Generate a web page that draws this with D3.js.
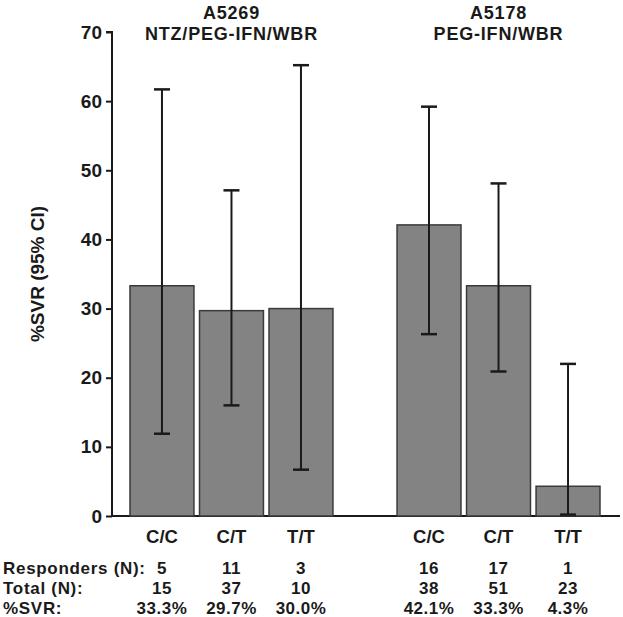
<!DOCTYPE html>
<html><head><meta charset="utf-8">
<script src="https://cdn.jsdelivr.net/npm/d3@7"></script>
<style>
body{margin:0;background:#fff;}
text{font-family:"Liberation Sans",Arial,sans-serif;font-weight:bold;fill:#1a1a1a;}
</style></head>
<body><svg id="c" width="623" height="617"></svg>
<script>
const groups = ["A5269", "A5178"];
const groupSubtitles = ["NTZ/PEG-IFN/WBR", "PEG-IFN/WBR"];
const genotypes = ["C/C", "C/T", "T/T"];
const svr = [[33.3, 29.7, 30.0], [42.1, 33.3, 4.3]];
const ciLow = [[11.9, 16.0, 6.7], [26.3, 20.9, 0.2]];
const ciHigh = [[61.7, 47.1, 65.2], [59.2, 48.1, 22.0]];
const responders = [[5, 11, 3], [16, 17, 1]];
const totals = [[15, 37, 10], [38, 51, 23]];
const svrLabels = [["33.3%", "29.7%", "30.0%"], ["42.1%", "33.3%", "4.3%"]];
const rowLabels = ["Responders (N):", "Total (N):", "%SVR:"];
const yTicks = [0, 10, 20, 30, 40, 50, 60, 70];

const svg = d3.select("#c");
const y = d3.scaleLinear().domain([0, 70]).range([516, 32]);
const xg = d3.scaleBand().domain(groups).range([130, 600]).paddingInner(0.24).paddingOuter(0);
const xc = d3.scaleBand().domain(genotypes).range([0, xg.bandwidth()]).paddingInner(0.08).paddingOuter(0);

// y axis
const yAxis = svg.append("g").attr("transform", "translate(112,0)")
  .call(d3.axisLeft(y).tickValues(yTicks).tickSize(6).tickPadding(4));
yAxis.select(".domain").attr("stroke", "#1a1a1a").attr("stroke-width", 2).attr("d", "M-6,32H0V516");
yAxis.selectAll(".tick line").attr("stroke", "#1a1a1a").attr("stroke-width", 2);
yAxis.selectAll(".tick text").style("font-size", "19px").style("font-weight", "bold").attr("fill", "#1a1a1a")
  .style("font-family", "'Liberation Sans',Arial,sans-serif");

// y label
svg.append("text").attr("transform", "translate(44,274) rotate(-90)").attr("text-anchor", "middle")
  .style("font-size", "19px").text("%SVR (95% CI)");

// x baseline
svg.append("line").attr("x1", 112).attr("x2", 620).attr("y1", y(0)).attr("y2", y(0))
  .attr("stroke", "#1a1a1a").attr("stroke-width", 2);

groups.forEach((g, gi) => {
  const gx = xg(g);
  const cx = xg(g) + xg.bandwidth() / 2;
  svg.append("text").attr("x", cx).attr("y", 19).attr("text-anchor", "middle").style("font-size", "18px")
    .style("letter-spacing", "0.8px").text(g);
  svg.append("text").attr("x", cx).attr("y", 40).attr("text-anchor", "middle").style("font-size", "18px")
    .style("letter-spacing", "0.8px").text(groupSubtitles[gi]);
  const gg = svg.append("g").attr("transform", `translate(${gx},0)`);
  const data = genotypes.map((c, i) => ({c, v: svr[gi][i], lo: ciLow[gi][i], hi: ciHigh[gi][i],
    r: responders[gi][i], t: totals[gi][i], s: svrLabels[gi][i]}));
  gg.selectAll("rect").data(data).join("rect")
    .attr("x", d => xc(d.c)).attr("width", xc.bandwidth())
    .attr("y", d => y(d.v)).attr("height", d => y(0) - y(d.v))
    .attr("fill", "#838383").attr("stroke", "#3a3a3a").attr("stroke-width", 1.5);
  const mid = d => xc(d.c) + xc.bandwidth() / 2;
  gg.selectAll("line.v").data(data).join("line").attr("class", "v")
    .attr("x1", mid).attr("x2", mid).attr("y1", d => y(d.lo)).attr("y2", d => y(d.hi))
    .attr("stroke", "#1a1a1a").attr("stroke-width", 2);
  ["lo", "hi"].forEach(k => {
    gg.selectAll("line." + k).data(data).join("line").attr("class", k)
      .attr("x1", d => mid(d) - 8).attr("x2", d => mid(d) + 8).attr("y1", d => y(d[k])).attr("y2", d => y(d[k]))
      .attr("stroke", "#1a1a1a").attr("stroke-width", 2.5);
  });
  const rows = [["c", 543, 18.5], ["r", 574, 17], ["t", 594, 17], ["s", 614, 17]];
  rows.forEach(([k, yy, fs]) => {
    gg.selectAll("text.t" + k).data(data).join("text").attr("class", "t" + k)
      .attr("x", mid).attr("y", yy).attr("text-anchor", "middle").style("font-size", fs + "px")
      .style("letter-spacing", k === "c" ? "0px" : "0.5px")
      .text(d => d[k]);
  });
});

[574, 594, 614].forEach((yy, i) => {
  svg.append("text").attr("x", 3).attr("y", yy).style("font-size", "17px").style("letter-spacing", "0.7px").text(rowLabels[i]);
});
</script></body></html>
